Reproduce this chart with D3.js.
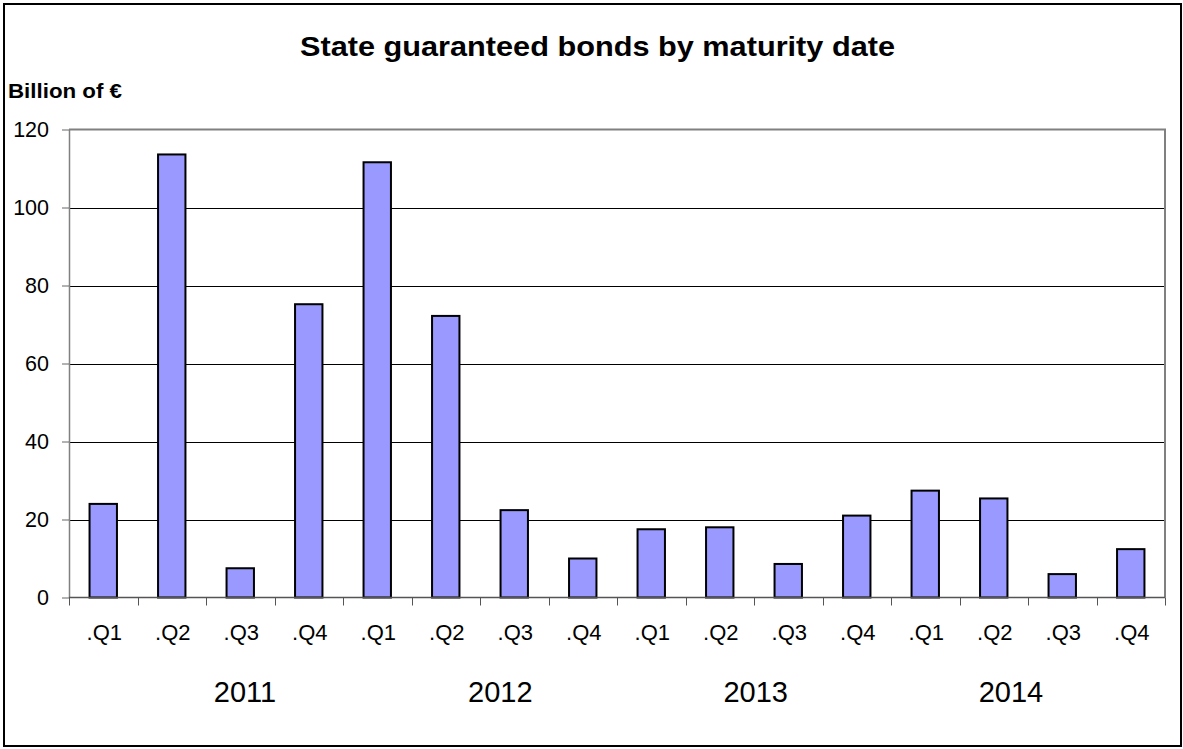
<!DOCTYPE html>
<html>
<head>
<meta charset="utf-8">
<script src="https://cdn.jsdelivr.net/npm/d3@7"></script>
<style>
  html, body { margin: 0; padding: 0; background: #fff; }
  svg { display: block; }
  text { font-family: "Liberation Sans", Arial, "DejaVu Sans", sans-serif; fill: #000; }
</style>
</head>
<body>
<svg id="chart" width="1183" height="749"></svg>
<script>
// ---- data ----
const years = ["2011", "2012", "2013", "2014"];
const quarters = [".Q1", ".Q2", ".Q3", ".Q4"];
const values = [24.0, 113.6, 7.5, 75.2, 111.6, 72.2, 22.4, 10.0, 17.5, 18.0, 8.6, 21.0, 27.4, 25.4, 6.0, 12.4];
const yTicks = [0, 20, 40, 60, 80, 100, 120];
const title = "State guaranteed bonds by maturity date";
const yAxisTitle = "Billion of €";

// categories built from years x quarters
const categories = [];
years.forEach(y => quarters.forEach(q => categories.push({ key: y + q, year: y, q: q })));
const data = categories.map((c, i) => ({ ...c, value: values[i] }));

// ---- layout ----
const plot = { left: 69, right: 1165, top: 129.5, bottom: 597.5 };

const svg = d3.select("#chart");

// outer frame
svg.append("rect")
  .attr("x", 4).attr("y", 4).attr("width", 1177).attr("height", 742)
  .attr("fill", "#fff").attr("stroke", "#000").attr("stroke-width", 2);

const x = d3.scaleBand()
  .domain(categories.map(c => c.key))
  .range([plot.left, plot.right])
  .paddingInner(0.6).paddingOuter(0.3);

const xEdges = d3.scaleBand()
  .domain(categories.map(c => c.key))
  .range([plot.left, plot.right])
  .padding(0);

const y = d3.scaleLinear().domain([0, 120]).range([plot.bottom, plot.top]);

// gridlines
svg.append("g")
  .selectAll("line")
  .data(yTicks.filter(t => t > 0 && t < 120))
  .join("line")
  .attr("x1", plot.left).attr("x2", plot.right)
  .attr("y1", d => Math.round(y(d)) + 0.5).attr("y2", d => Math.round(y(d)) + 0.5)
  .attr("stroke", "#000").attr("stroke-width", 1);

// plot border (top & right)
svg.append("path")
  .attr("d", `M${plot.left},${plot.top}H${plot.right}V${plot.bottom}`)
  .attr("fill", "none").attr("stroke", "#808080").attr("stroke-width", 2);

// bars
svg.append("g")
  .selectAll("rect")
  .data(data)
  .join("rect")
  .attr("x", d => x(d.key))
  .attr("width", x.bandwidth())
  .attr("y", d => y(d.value))
  .attr("height", d => y(0) - y(d.value))
  .attr("fill", "#9999FF")
  .attr("stroke", "#000")
  .attr("stroke-width", 2);

// y axis
const yAxis = d3.axisLeft(y).tickValues(yTicks).tickSize(7).tickSizeOuter(0).tickPadding(13);
const gy = svg.append("g").attr("transform", `translate(${plot.left},0)`).call(yAxis);
gy.select(".domain").attr("stroke", "#808080").attr("stroke-width", 1.5);
gy.selectAll(".tick line").attr("stroke", "#666");
gy.selectAll(".tick text")
  .attr("font-size", 21.5)
  .attr("font-family", "Liberation Sans, Arial, sans-serif")
  .attr("fill", "#000");

// x axis line
svg.append("line")
  .attr("x1", plot.left).attr("x2", plot.right)
  .attr("y1", plot.bottom).attr("y2", plot.bottom)
  .attr("stroke", "#555").attr("stroke-width", 1.5);

// x ticks at band edges
const edges = categories.map(c => xEdges(c.key)).concat([plot.right]);
svg.append("g")
  .selectAll("line")
  .data(edges)
  .join("line")
  .attr("x1", d => Math.round(d) + 0.5).attr("x2", d => Math.round(d) + 0.5)
  .attr("y1", plot.bottom).attr("y2", plot.bottom + 8)
  .attr("stroke", "#555").attr("stroke-width", 1);

// quarter labels
svg.append("g")
  .selectAll("text")
  .data(data)
  .join("text")
  .attr("x", d => xEdges(d.key) + xEdges.bandwidth() / 2 + 1)
  .attr("y", 640)
  .attr("text-anchor", "middle")
  .attr("font-size", 22)
  .text(d => d.q);

// year labels
const yearPos = d3.scalePoint().domain(years).range([245, 1011]);
svg.append("g")
  .selectAll("text")
  .data(years)
  .join("text")
  .attr("x", d => yearPos(d))
  .attr("y", 702)
  .attr("text-anchor", "middle")
  .attr("font-size", 29)
  .text(d => d);

// title
svg.append("text")
  .attr("x", 300).attr("y", 56)
  .attr("font-size", 28)
  .attr("font-weight", "bold")
  .attr("textLength", 595)
  .attr("lengthAdjust", "spacingAndGlyphs")
  .text(title);

// y axis title
svg.append("text")
  .attr("x", 8).attr("y", 98)
  .attr("font-size", 21)
  .attr("font-weight", "bold")
  .attr("textLength", 114)
  .attr("lengthAdjust", "spacingAndGlyphs")
  .text(yAxisTitle);
</script>
</body>
</html>
